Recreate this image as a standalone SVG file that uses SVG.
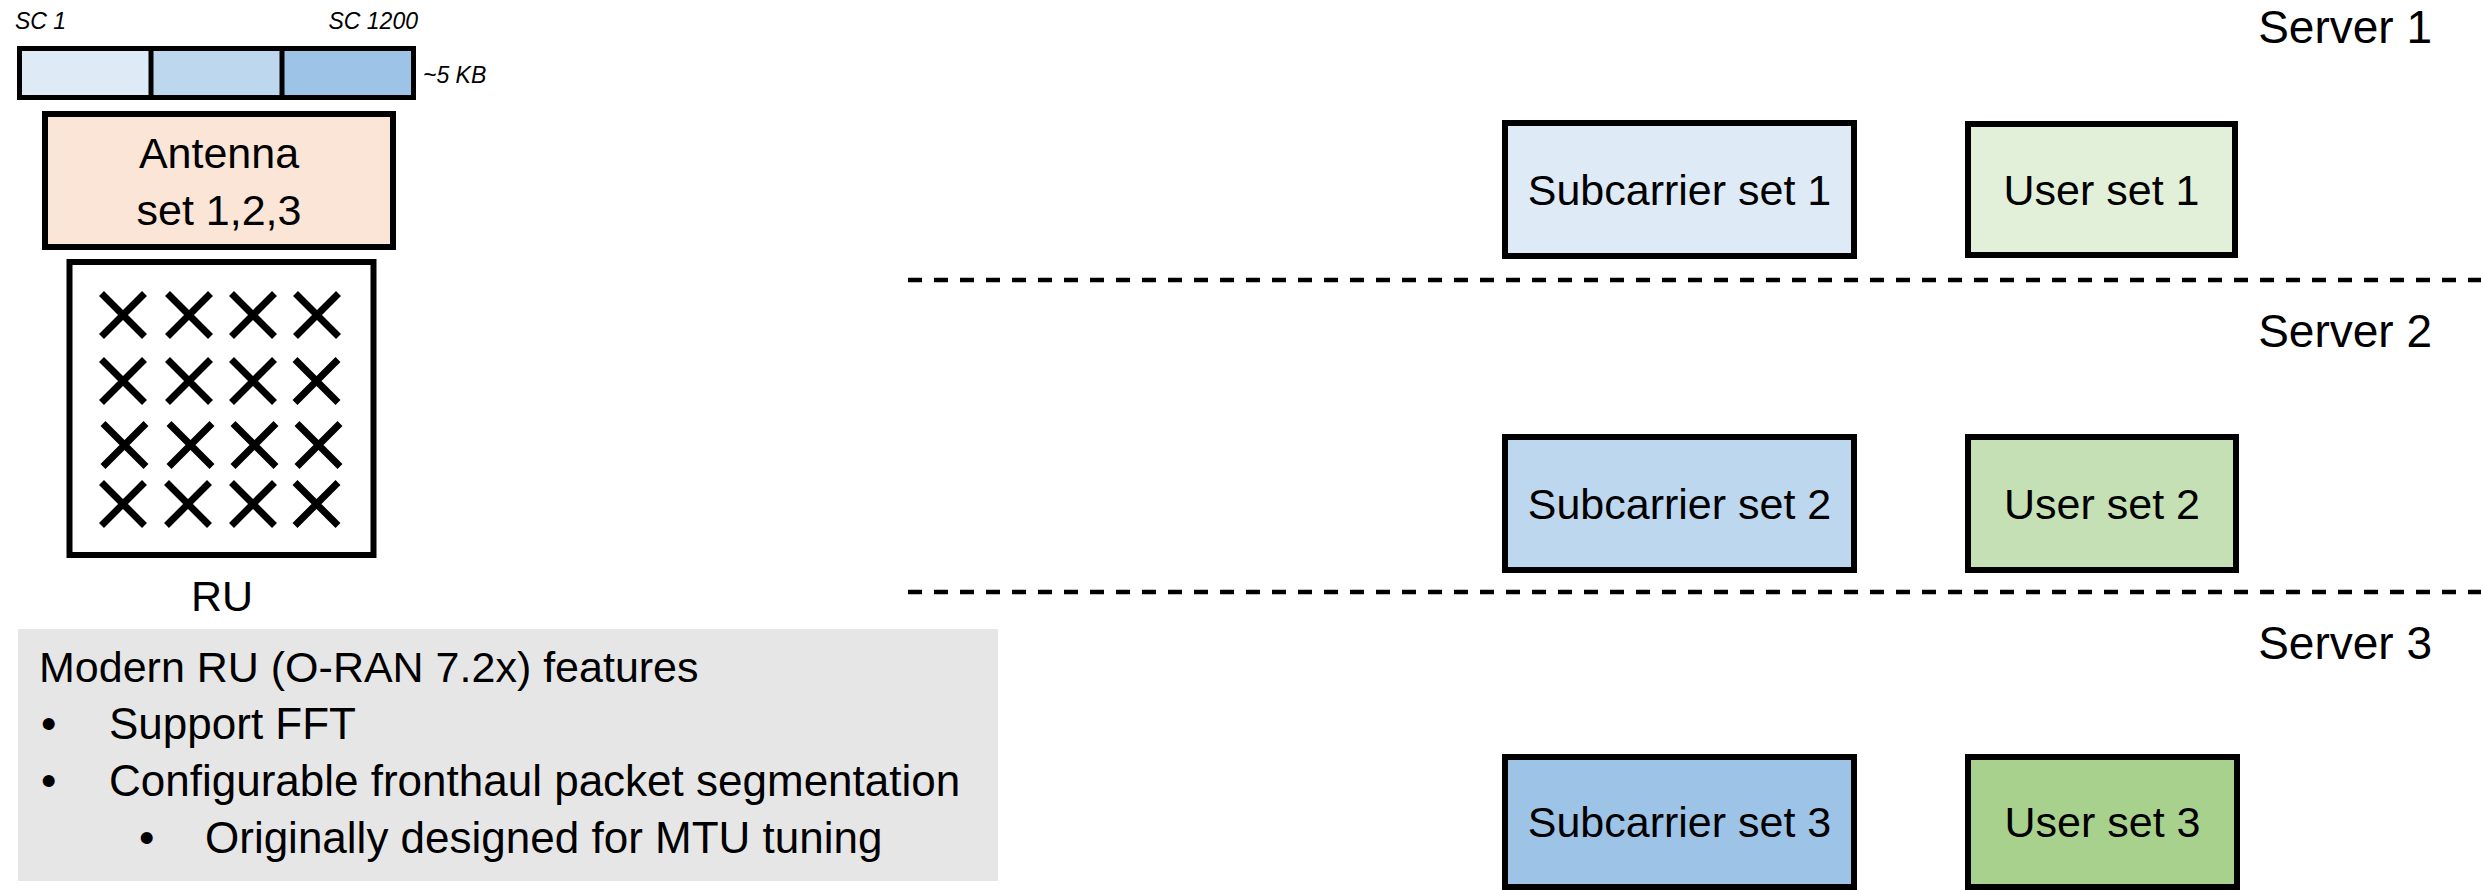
<svg xmlns="http://www.w3.org/2000/svg" xmlns:xlink="http://www.w3.org/1999/xlink" width="2481" height="890" viewBox="0 0 2481 890">
  <style>
    text { font-family: "Liberation Sans", Arial, sans-serif; fill: #000; }
    .box { stroke: #000; stroke-width: 6; }
    .lbl { font-size: 43px; text-anchor: middle; }
    .srv { font-size: 46px; text-anchor: end; }
    .sc { font-size: 23px; font-style: italic; }
    .list { font-size: 44px; }
    .sep { stroke: #000; stroke-width: 4.5; stroke-dasharray: 14 12; fill: none; }
  </style>
  <defs>
    <path id="ant" d="M-21.5,-21.5 L21.5,21.5 M-21.5,21.5 L21.5,-21.5" stroke="#000" stroke-width="7" fill="none"/>
  </defs>
  <rect width="2481" height="890" fill="#fff"/>

  <!-- Subcarrier packet bar -->
  <g id="sc-bar">
    <rect x="19.5" y="48.5" width="131.5" height="49" fill="#DEEBF7"/>
    <rect x="151" y="48.5" width="131" height="49" fill="#BDD7EE"/>
    <rect x="282" y="48.5" width="131.5" height="49" fill="#9DC3E6"/>
    <rect x="19.5" y="48.5" width="394" height="49" fill="none" stroke="#000" stroke-width="5"/>
    <line x1="151" y1="48.5" x2="151" y2="97.5" stroke="#000" stroke-width="5"/>
    <line x1="282" y1="48.5" x2="282" y2="97.5" stroke="#000" stroke-width="5"/>
    <text class="sc" x="15" y="29">SC 1</text>
    <text class="sc" x="418" y="29" text-anchor="end">SC 1200</text>
    <text class="sc" x="423" y="83">~5 KB</text>
  </g>

  <!-- Antenna set -->
  <g id="antenna-set">
    <rect class="box" x="45" y="114" width="348" height="133" fill="#FBE5D6"/>
    <text class="lbl" x="219" y="168">Antenna</text>
    <text class="lbl" x="219" y="225">set 1,2,3</text>
  </g>

  <!-- RU -->
  <g id="ru">
    <rect class="box" x="69.5" y="262" width="304" height="293" fill="#fff"/>
    <use href="#ant" x="123" y="315"/>
    <use href="#ant" x="189" y="315"/>
    <use href="#ant" x="253" y="315"/>
    <use href="#ant" x="317" y="315"/>
    <use href="#ant" x="123" y="381"/>
    <use href="#ant" x="189" y="381"/>
    <use href="#ant" x="253" y="381"/>
    <use href="#ant" x="316.5" y="381"/>
    <use href="#ant" x="124.5" y="445"/>
    <use href="#ant" x="190.5" y="445"/>
    <use href="#ant" x="254.5" y="445"/>
    <use href="#ant" x="318.5" y="445"/>
    <use href="#ant" x="123" y="504"/>
    <use href="#ant" x="188" y="504"/>
    <use href="#ant" x="253" y="504"/>
    <use href="#ant" x="316.5" y="504"/>
    <text class="lbl" x="222" y="611">RU</text>
  </g>

  <!-- Features box -->
  <g id="features">
    <rect x="18" y="629" width="980" height="252" fill="#E7E6E6"/>
    <text x="39" y="682" style="font-size:43px">Modern RU (O-RAN 7.2x) features</text>
    <text class="list" x="41" y="739">•</text>
    <text class="list" x="109" y="739">Support FFT</text>
    <text class="list" x="41" y="796">•</text>
    <text class="list" x="109" y="796">Configurable fronthaul packet segmentation</text>
    <text class="list" x="139" y="853">•</text>
    <text class="list" x="205" y="853">Originally designed for MTU tuning</text>
  </g>

  <!-- Server separators -->
  <g id="connectors">
    <line class="sep" x1="908" y1="280" x2="2481" y2="280"/>
    <line class="sep" x1="908" y1="592" x2="2481" y2="592"/>
  </g>

  <!-- Server 1 -->
  <g id="server1">
    <text class="srv" x="2432" y="43">Server 1</text>
  </g>
  <g id="subcarrier-set-1">
    <rect class="box" x="1505" y="123" width="349" height="133" fill="#DEEBF7"/>
    <text class="lbl" x="1679.5" y="205">Subcarrier set 1</text>
  </g>
  <g id="user-set-1">
    <rect class="box" x="1968" y="124" width="267" height="131" fill="#E2F0D9"/>
    <text class="lbl" x="2101.5" y="205">User set 1</text>
  </g>

  <!-- Server 2 -->
  <g id="server2">
    <text class="srv" x="2432" y="347">Server 2</text>
  </g>
  <g id="subcarrier-set-2">
    <rect class="box" x="1505" y="437" width="349" height="133" fill="#BDD7EE"/>
    <text class="lbl" x="1679.5" y="519">Subcarrier set 2</text>
  </g>
  <g id="user-set-2">
    <rect class="box" x="1968" y="437" width="268" height="133" fill="#C5E0B4"/>
    <text class="lbl" x="2102" y="519">User set 2</text>
  </g>

  <!-- Server 3 -->
  <g id="server3">
    <text class="srv" x="2432" y="659">Server 3</text>
  </g>
  <g id="subcarrier-set-3">
    <rect class="box" x="1505" y="757" width="349" height="130" fill="#9DC3E6"/>
    <text class="lbl" x="1679.5" y="837">Subcarrier set 3</text>
  </g>
  <g id="user-set-3">
    <rect class="box" x="1968" y="757" width="269" height="130" fill="#A9D18E"/>
    <text class="lbl" x="2102.5" y="837">User set 3</text>
  </g>
</svg>
